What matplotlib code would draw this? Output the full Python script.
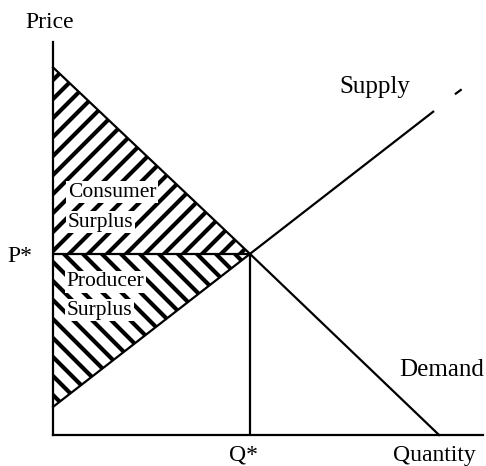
import matplotlib as mpl
mpl.use("Agg")
import matplotlib.pyplot as plt

plt.rcParams['font.family'] = ['Liberation Serif', 'DejaVu Serif']

# hatch spacing follows dpi, so render at 114 dpi and scale point sizes to match
DPI = 114
K = 100 / DPI
plt.rcParams['hatch.linewidth'] = 3.0 * K

# equilibrium
q_star = 10.0
p_star = 10.0

# demand and supply curves (quantity, price)
demand_q = [0.0, 10.0, 19.6]
demand_p = [20.3, 10.0, 0.0]
supply_q = [0.0, 10.0, 19.3]
supply_p = [1.55, 10.0, 17.85]
supply_tail_q = [20.45, 20.7]
supply_tail_p = [18.85, 19.05]

x_max = 21.83
y_max = 21.7

fig = plt.figure(figsize=(487 / DPI, 466 / DPI), dpi=DPI)
ax = fig.add_axes([53 / 487, 31 / 466, 430 / 487, 393 / 466])
ax.set_xlim(0, x_max)
ax.set_ylim(0, y_max)

# consumer surplus: between demand and P*
ax.fill_between(demand_q[:2], [p_star, p_star], demand_p[:2], facecolor='white',
                edgecolor='black', hatch='//', linewidth=0)
# producer surplus: between P* and supply
ax.fill_between(supply_q[:2], supply_p[:2], [p_star, p_star], facecolor='white',
                edgecolor='black', hatch='\\\\', linewidth=0)

lw = 1.6 * K
ax.plot(demand_q, demand_p, color='black', lw=lw, clip_on=False)
ax.plot(supply_q, supply_p, color='black', lw=lw, clip_on=False)
ax.plot(supply_tail_q, supply_tail_p, color='black', lw=lw, clip_on=False)
ax.plot([0, q_star], [p_star, p_star], color='black', lw=lw)
ax.plot([q_star, q_star], [0, p_star], color='black', lw=lw)

for s in ['top', 'right']:
    ax.spines[s].set_visible(False)
for s in ['left', 'bottom']:
    ax.spines[s].set_linewidth(lw)

ax.set_xticks([])
ax.set_yticks([p_star])
ax.set_yticklabels(['P*'])
ax.tick_params(length=0, labelsize=17 * K)
ax.tick_params(axis='y', pad=15 * K)

ax.text(q_star - 0.35, -1.1, 'Q*', fontsize=17 * K, ha='center', va='center', clip_on=False)
ax.text(-0.15, 22.8, 'Price', fontsize=17 * K, ha='center', va='center', clip_on=False)
ax.text(19.35, -1.15, 'Quantity', fontsize=17 * K, ha='center', va='center', clip_on=False)
ax.text(16.35, 19.2, 'Supply', fontsize=18 * K, ha='center', va='center')
ax.text(19.75, 3.6, 'Demand', fontsize=18 * K, ha='center', va='center')

box = dict(facecolor='white', edgecolor='none', pad=1)
ax.text(0.75, 13.4, 'Consumer', fontsize=15.5 * K, ha='left', va='center', bbox=box)
ax.text(0.75, 11.75, 'Surplus', fontsize=15.5 * K, ha='left', va='center', bbox=box)
ax.text(0.7, 8.45, 'Producer', fontsize=15.5 * K, ha='left', va='center', bbox=box)
ax.text(0.7, 6.9, 'Surplus', fontsize=15.5 * K, ha='left', va='center', bbox=box)

fig.savefig('out.png', dpi=DPI)
